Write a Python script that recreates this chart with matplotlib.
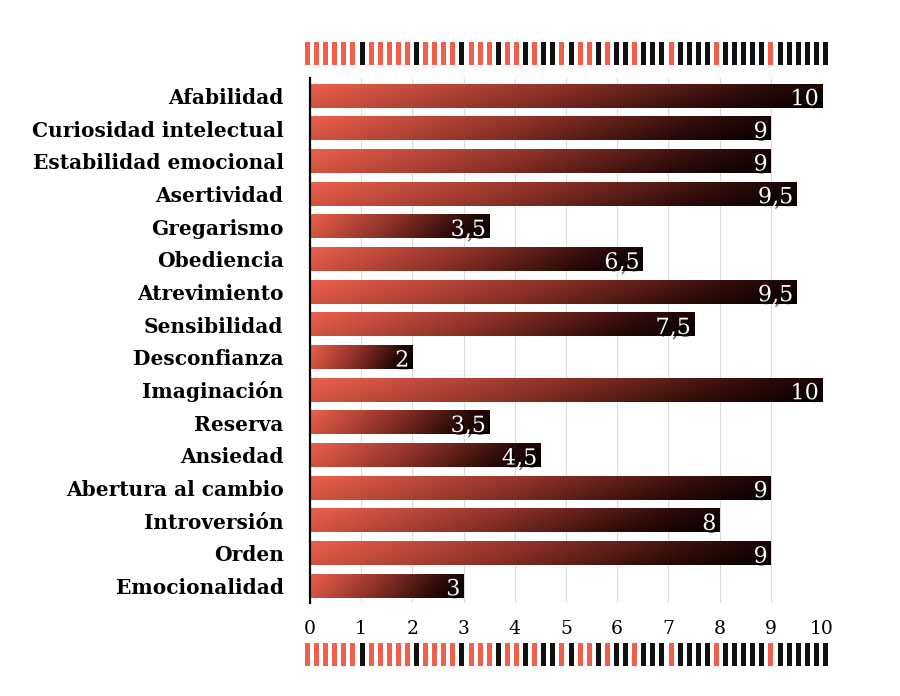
import numpy as np
import matplotlib.pyplot as plt
import matplotlib.patheffects as pe
from matplotlib.colors import LinearSegmentedColormap
from matplotlib.patches import Rectangle

# Data
rasgos = ['Afabilidad', 'Curiosidad intelectual', 'Estabilidad emocional', 'Asertividad',
          'Gregarismo', 'Obediencia', 'Atrevimiento', 'Sensibilidad', 'Desconfianza',
          'Imaginación', 'Reserva', 'Ansiedad', 'Abertura al cambio', 'Introversión',
          'Orden', 'Emocionalidad']
puntuaciones = [10, 9, 9, 9.5, 3.5, 6.5, 9.5, 7.5, 2, 10, 3.5, 4.5, 9, 8, 9, 3]
ticks = list(range(0, 11))

# decorative stripe band (R = red, B = black)
franja = 'RRRRRRBRRRRRBRRRRBRRRBRRBRBBRBRRBRBBRBBBRBBBBRBBBBBRBBBBBB'

serif = 'DejaVu Serif'
cmap = LinearSegmentedColormap.from_list(
    'barra', [(0.0, '#ec604c'), (0.45, '#8a3026'), (0.8, '#2a0a08'), (1.0, '#050000')])

fig = plt.figure(figsize=(9, 6.96), dpi=100)
ax = fig.add_axes([0.3444, 0.1336, 0.5689, 0.7544])

h = 0.72
for i, v in enumerate(puntuaciones):
    gx = np.linspace(0, 1, 200)[None, :]
    gy = np.linspace(0, 1, 20)[:, None]
    grad = np.clip(0.88 * gx + 0.12 * gy, 0, 1)
    ax.imshow(grad, cmap=cmap, extent=(0, v, i + h / 2, i - h / 2),
              aspect='auto', interpolation='bilinear', zorder=2)
    txt = f'{v:g}'.replace('.', ',')
    t = ax.text(v - 0.06, i + 0.1, txt, ha='right', va='center', color='white',
                fontsize=16, family=serif, zorder=4)
    t.set_path_effects([pe.withSimplePatchShadow(offset=(1.5, -2), shadow_rgbFace='black',
                                                 alpha=0.6)])

ax.set_xlim(0, 10)
ax.set_ylim(len(rasgos) - 0.48, -0.55)
ax.set_yticks(range(len(rasgos)))
ax.set_yticklabels(rasgos, fontsize=14.5, fontweight='bold', family=serif)
ax.set_xticks(ticks)
ax.set_xticklabels([str(t) for t in ticks], fontsize=13.5, family=serif)
ax.tick_params(axis='both', length=0)
ax.tick_params(axis='x', pad=12)
ax.tick_params(axis='y', pad=19)
ax.xaxis.grid(True, color='#dcdcdc', linewidth=0.8, zorder=0)
ax.set_axisbelow(True)
for s in ['top', 'right', 'bottom']:
    ax.spines[s].set_visible(False)
ax.spines['left'].set_linewidth(1.6)
ax.spines['left'].set_color('black')
ax.spines['left'].set_zorder(5)

# stripe bands top and bottom
W, H = 900, 696
x0, x1 = 305, 828
step = (x1 - x0 - 5) / (len(franja) - 1)
for ytop in (42, 643):
    for k, c in enumerate(franja):
        col = '#f0604c' if c == 'R' else '#111111'
        fig.patches.append(Rectangle(((x0 + k * step) / W, 1 - (ytop + 23) / H),
                                     5 / W, 23 / H, transform=fig.transFigure,
                                     facecolor=col, edgecolor='none'))

fig.savefig('out.png', dpi=100)
